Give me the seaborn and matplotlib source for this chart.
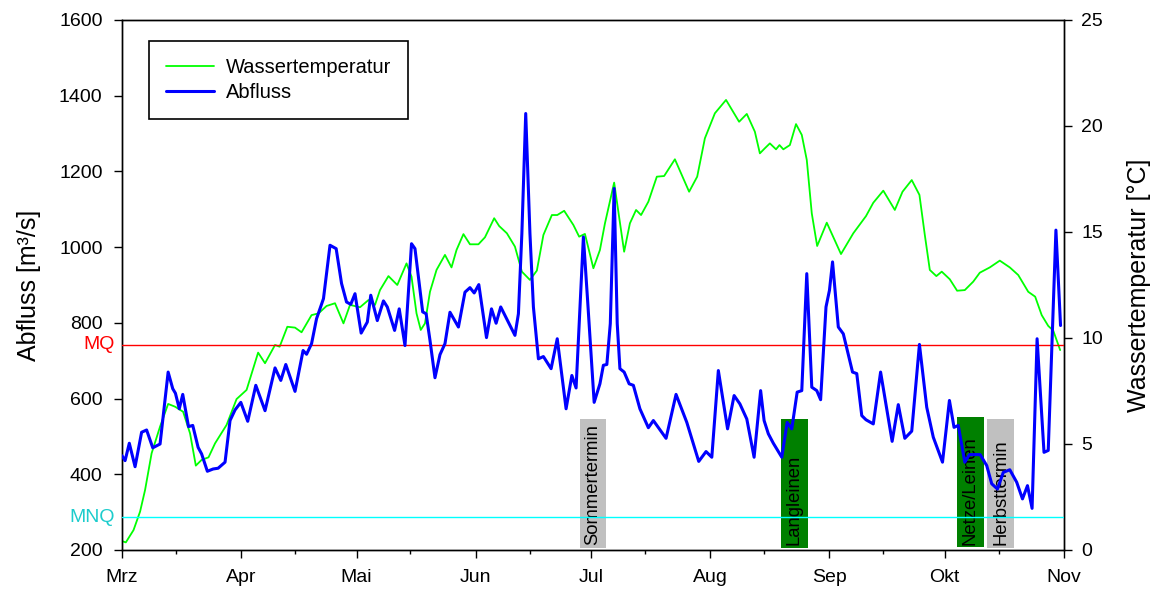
import numpy as np
import pandas as pd
import matplotlib
matplotlib.use("Agg")
import matplotlib.pyplot as plt
import matplotlib.dates as mdates
import seaborn as sns

# Abfluss (m3/s), days counted from 1 March
q_day = [0.0, 0.8, 1.9, 3.4, 5.1, 6.4, 8.0, 9.9, 12.0, 13.2, 13.9, 14.9, 15.8, 17.3, 18.4, 19.8,
         20.7, 22.2, 23.7, 25.0, 26.8, 28.1, 29.4, 30.9, 32.7, 34.8, 37.2, 39.8, 41.3, 42.6, 45.0,
         47.1, 48.0, 49.3, 50.6, 52.4, 54.1, 55.7, 57.1, 58.4, 59.5, 60.6, 62.2, 63.8, 64.7, 66.4,
         68.0, 69.0, 70.9, 72.1, 73.6, 75.3, 76.2, 78.2, 79.1, 80.1, 81.4, 82.7, 84.0, 85.3, 87.5,
         89.2, 90.5, 91.6, 92.8, 94.8, 96.1, 97.3, 98.5, 102.2, 103.1, 104.0, 105.0, 106.1, 107.0,
         108.3, 109.6, 111.6, 113.2, 115.5, 117.0, 118.1, 120.0, 121.1, 122.8, 124.3, 125.2, 126.1,
         127.0, 128.0, 128.8, 129.5, 130.6, 131.9, 133.0, 134.7, 136.9, 138.2, 141.5, 144.1, 146.9,
         150.0, 151.9, 153.4, 155.1, 157.5, 159.2, 160.7, 162.5, 164.4, 166.1, 167.0, 168.1, 169.4,
         171.6, 173.0, 174.2, 175.6, 176.8, 178.1, 179.4, 180.7, 181.7, 183.1, 184.0, 184.8, 186.3,
         187.6, 190.0, 191.1, 192.4, 193.5, 195.4, 197.3, 200.3, 201.9, 203.6, 205.4, 207.4, 209.3,
         211.0, 213.4, 215.2, 216.4, 217.5, 219.2, 220.4, 223.2, 224.9, 226.2, 227.7, 229.2, 230.9,
         232.7, 234.2, 235.5, 236.7, 238.0, 239.8, 240.9, 242.9, 244.1]
q_val = [449, 436, 482, 420, 511, 517, 470, 480, 670, 626, 614, 573, 611, 526, 529, 471,
         454, 408, 414, 416, 432, 542, 570, 590, 540, 635, 568, 681, 648, 690, 619,
         727, 717, 745, 811, 864, 1005, 996, 904, 855, 849, 877, 773, 802, 873, 806,
         858, 842, 780, 837, 740, 1009, 996, 829, 824, 754, 655, 716, 745, 828, 789,
         881, 893, 879, 901, 761, 837, 799, 842, 767, 824, 1036, 1353, 1036, 842,
         705, 711, 679, 758, 573, 661, 628, 1027, 859, 590, 639, 688, 690,
         798, 1155, 798, 679, 670, 639, 635, 573, 523, 542, 495, 611, 537,
         434, 460, 445, 674, 520, 608, 586, 546, 445, 621, 542, 507, 482,
         445, 537, 520, 617, 621, 930, 630, 621, 597, 842, 886, 961, 789,
         771, 670, 666, 555, 544, 533, 670, 487, 584, 495, 514, 743, 577,
         498, 432, 595, 524, 529, 432, 452, 452, 423, 375, 361, 405, 412,
         379, 335, 370, 310, 758, 458, 463, 1045, 793]

# Wassertemperatur (degC)
t_day = [0.0, 1.0, 3.0, 4.7, 6.0, 7.7, 9.9, 12.0, 13.8, 15.9, 17.7, 19.2, 20.7, 22.5, 24.2, 27.2,
         29.8, 32.4, 35.4, 37.2, 39.8, 41.0, 43.0, 45.0, 46.7, 49.3, 51.1, 53.2, 55.4, 57.6, 59.3,
         61.9, 64.1, 65.8, 67.1, 69.3, 71.6, 74.0, 75.3, 76.6, 77.7, 78.8, 80.1, 81.8, 84.0, 85.7,
         87.0, 88.8, 90.5, 92.7, 94.4, 96.8, 98.1, 100.1, 102.2, 104.0, 106.1, 107.9, 109.6, 111.8,
         113.2, 115.0, 117.4, 118.9, 120.4, 122.6, 124.3, 125.6, 128.0, 130.6, 132.1, 133.7, 135.0,
         136.9, 139.1, 141.0, 143.8, 147.5, 149.6, 151.6, 154.2, 157.1, 160.5, 162.5, 164.6, 165.9,
         167.2, 168.5, 170.1, 171.0, 172.0, 173.7, 175.3, 176.8, 178.1, 179.4, 180.8, 183.3, 187.0,
         190.2, 193.5, 195.4, 198.0, 201.0, 203.0, 205.4, 207.4, 208.8, 210.1, 211.8, 213.2, 215.3,
         217.2, 219.2, 221.4, 223.1, 225.7, 228.3, 230.9, 233.1, 235.7, 237.5, 239.2, 240.9, 242.2,
         244.0]
t_val = [0.42, 0.36, 0.94, 1.81, 2.83, 4.56, 5.82, 6.89, 6.76, 6.52, 5.50, 3.98, 4.25, 4.37, 5.03, 5.90,
         7.12, 7.55, 9.31, 8.81, 9.67, 9.59, 10.53, 10.49, 10.27, 11.08, 11.16, 11.51, 11.64, 10.69, 11.56,
         11.45, 11.79, 11.56, 12.26, 12.92, 12.50, 13.52, 12.89, 11.16, 10.38, 10.69, 12.18, 13.21, 13.92, 13.33,
         14.15, 14.90, 14.42, 14.42, 14.75, 15.65, 15.28, 14.94, 14.31, 13.13, 12.74, 13.18, 14.86, 15.80,
         15.80, 16.00, 15.33, 14.78, 14.91, 13.29, 14.15, 15.40, 17.33, 14.07, 15.41, 16.04, 15.80,
         16.43, 17.61, 17.64, 18.43, 16.90, 17.61, 19.42, 20.60, 21.23, 20.20, 20.57, 19.73, 18.71,
         18.95, 19.18, 18.90, 19.10, 18.90, 19.10, 20.09, 19.58, 18.40, 15.88, 14.34, 15.44, 13.96,
         14.94, 15.75, 16.38, 16.95, 16.04, 16.90, 17.45, 16.75, 14.86, 13.21, 12.92, 13.13, 12.77,
         12.23, 12.26, 12.66, 13.08, 13.33, 13.65, 13.33, 12.97, 12.18, 11.95, 11.08, 10.57, 10.35,
         9.43]

# Fangtermine (boxes)
box_labels = ["Sommertermin", "Langleinen", "Netze/Leinen", "Herbsttermin"]
box_start = [119.1, 171.4, 217.2, 225.0]
box_width = [6.9, 7.0, 6.9, 7.0]
box_bottom = [205, 205, 209, 205]
box_top = [547, 547, 552, 547]
box_colors = ["#C0C0C0", "#008000", "#008000", "#C0C0C0"]

mq = 742
mnq = 287

month_labels = ["Mrz", "Apr", "Mai", "Jun", "Jul", "Aug", "Sep", "Okt", "Nov"]

start = pd.Timestamp("2015-03-01")


def to_dates(days):
    return start + pd.to_timedelta(np.array(days, dtype=float), unit="D")


sns.set_style("ticks", {"text.color": "black", "axes.labelcolor": "black",
                        "xtick.color": "black", "ytick.color": "black",
                        "axes.edgecolor": "black"})
plt.rcParams["font.family"] = ["Liberation Sans", "DejaVu Sans"]

fig = plt.figure(figsize=(11.62, 5.92), dpi=100)
ax = fig.add_axes([122 / 1162, 1 - 550 / 592, 942 / 1162, 530 / 592])
ax2 = ax.twinx()

# temperature on the right axis
sns.lineplot(x=to_dates(t_day), y=t_val, ax=ax2, color="#00FF00", linewidth=1.3, legend=False)
green_line = ax2.lines[0]

# boxes for the sampling dates
starts = to_dates(box_start)
ax.bar(starts, np.array(box_top) - np.array(box_bottom),
       width=pd.to_timedelta(box_width, unit="D").to_pytimedelta(),
       bottom=box_bottom, align="edge", color=box_colors, linewidth=0, zorder=1)
for s, w, lab in zip(starts, box_width, box_labels):
    ax.text(s + pd.Timedelta(days=w / 2), 212, lab, rotation=90, ha="center", va="bottom",
            fontsize=13.3, color="black", zorder=2)

ax.axhline(mq, color="#FF0000", linewidth=1, zorder=3)
ax.axhline(mnq, color="#00FFFF", linewidth=1, zorder=3)
ax.text(-0.008, mq, "MQ", transform=ax.get_yaxis_transform(), ha="right", va="center",
        color="#FF0000", fontsize=14)
ax.text(-0.008, mnq, "MNQ", transform=ax.get_yaxis_transform(), ha="right", va="center",
        color="#1CCCCC", fontsize=14)

# discharge on the left axis
sns.lineplot(x=to_dates(q_day), y=q_val, ax=ax, color="#0000FF", linewidth=2.2, legend=False,
             zorder=4)
blue_line = ax.lines[-1]
blue_line.set_solid_joinstyle("round")

ax.set_zorder(ax2.get_zorder() + 1)
ax.patch.set_visible(False)

ax.set_xlim(start, pd.Timestamp("2015-11-01"))
ax.set_ylim(200, 1600)
ax2.set_ylim(0, 25)
ax.set_yticks(range(200, 1601, 200))
ax2.set_yticks(range(0, 26, 5))

ax.set_xticks(pd.date_range(start, periods=9, freq="MS"))
ax.set_xticklabels(month_labels)
ax.xaxis.set_minor_locator(mdates.DayLocator(bymonthday=15))

ax.tick_params(axis="x", which="major", direction="out", length=6, width=1, labelsize=14, pad=7.5)
ax.tick_params(axis="x", which="minor", direction="out", length=3, width=1)
ax.tick_params(axis="y", direction="out", length=6, width=1, labelsize=14, pad=8)
ax2.tick_params(axis="y", direction="out", length=6, width=1, labelsize=14, pad=6.5)

ax.set_xlabel("")
ax.set_ylabel("Abfluss [m³/s]", fontsize=18, labelpad=13)
ax2.set_ylabel("Wassertemperatur [°C]", fontsize=18, labelpad=17)

for a in (ax, ax2):
    for sp in a.spines.values():
        sp.set_linewidth(1.0)
        sp.set_color("black")

leg = ax.legend([green_line, blue_line], ["Wassertemperatur", "Abfluss"], loc="upper left",
                bbox_to_anchor=(0.0287, 0.960), borderaxespad=0, frameon=True, fancybox=False,
                edgecolor="black", framealpha=1, fontsize=14.5, handlelength=2.4,
                handletextpad=0.55, borderpad=0.85, labelspacing=0.28)
leg.get_frame().set_linewidth(1.2)

fig.savefig("out.png", dpi=100)
